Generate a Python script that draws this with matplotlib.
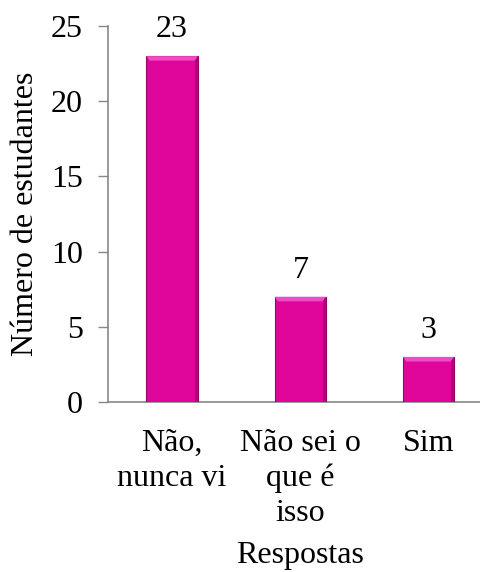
import numpy as np
import matplotlib.pyplot as plt
from matplotlib.patches import Polygon

categorias = ['Não,\nnunca vi', 'Não sei o\nque é\nisso', 'Sim']
valores = [23, 7, 3]

plt.rcParams['font.family'] = ['Liberation Serif', 'DejaVu Serif']
fs = 23

fig = plt.figure(figsize=(4.81, 5.72), dpi=100)
ax = fig.add_axes([0.2245, 0.297, 0.80, 0.6575])

x = np.arange(len(categorias))
w = 0.40
cor = '#E0069C'
ax.bar(x, valores, width=w, color=cor, edgecolor='#9A0468', linewidth=0.8, zorder=3)

# bevel effect
for xi, v in zip(x, valores):
    l, r = xi - w / 2, xi + w / 2
    b = 0.025
    dy = 0.3
    ax.add_patch(Polygon([[l, v], [r, v], [r - b, v - dy], [l + b, v - dy]],
                         closed=True, color='#F04BC0', zorder=4, lw=0))
    ax.add_patch(Polygon([[r, v], [r, 0], [r - b, 0], [r - b, v - dy]],
                         closed=True, color='#B0057A', zorder=4, lw=0))
    ax.text(xi, v + 0.8, str(v), ha='center', va='bottom', fontsize=fs)

ax.set_xlim(-0.5, 2.5)
ax.set_ylim(0, 25)
ax.set_yticks([0, 5, 10, 15, 20, 25])
ax.set_xticks(x)
ax.set_xticklabels(categorias, fontsize=fs, linespacing=1.28, va='top')
ax.tick_params(axis='y', labelsize=fs, direction='out', length=7, color='#888888', width=1, pad=11)
ax.tick_params(axis='x', length=0, pad=19)
for s in ['top', 'right']:
    ax.spines[s].set_visible(False)
ax.spines['left'].set_color('#888888')
ax.spines['bottom'].set_color('#888888')
ax.spines['left'].set_linewidth(1.2)
ax.spines['bottom'].set_linewidth(1.2)

ax.set_ylabel('Número de estudantes', fontsize=fs, labelpad=8)
ax.set_xlabel('Respostas', fontsize=fs, labelpad=9)

fig.savefig('out.png', dpi=100)
